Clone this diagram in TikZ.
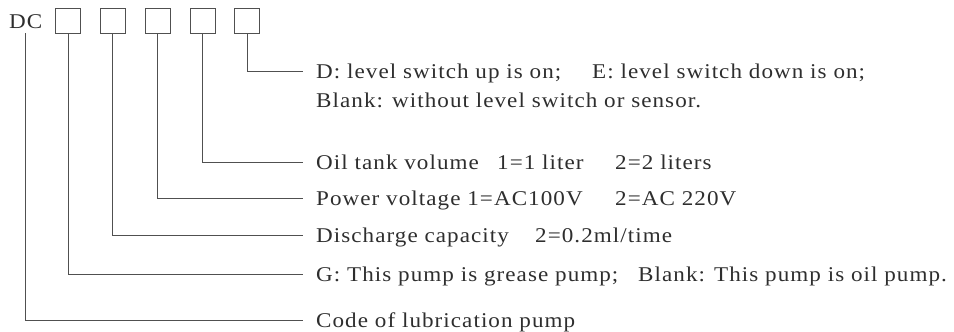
\documentclass[tikz,border=0pt]{standalone}
\usepackage{fontspec}
\setmainfont{Liberation Serif}[FakeStretch=1.1,LetterSpace=5]
\usepackage{tikz}
\usetikzlibrary{positioning}
\definecolor{inkgray}{HTML}{2E2E2E}
\definecolor{linegray}{HTML}{505050}

\begin{document}
\begin{tikzpicture}[x=1pt, y=-1pt,
    cell/.style={draw=linegray, line width=0.8pt, minimum size=25pt, inner sep=0pt},
    txt/.style={anchor=west, inner sep=0pt, text height=14pt, text depth=0pt,
        text=inkgray, font=\fontsize{21}{25}\selectfont},
    lead/.style={draw=linegray, line width=0.8pt, shorten >=13pt}]
    \useasboundingbox (0,0) rectangle (954,332);

    % code letters
    \node[txt, anchor=base west] (dc) at (9,28) {DC};
    \node[cell] (b1) at (68,20.5) {};
    \node[cell, right=19pt of b1] (b2) {};
    \node[cell, right=19pt of b2] (b3) {};
    \node[cell, right=19pt of b3] (b4) {};
    \node[cell, right=19pt of b4] (b5) {};

    % explanations
    \node[txt] (tD) at (316,71.7) {D: level switch up is on;};
    \node[txt] (tE) at (592,71.7) {E: level switch down is on;};
    \node[txt] (tBlank) at (316,100) {Blank: without level switch or sensor.};
    \node[txt] (tOil) at (316,162) {Oil tank volume};
    \node[txt] (tOneL) at (497,162) {1=1 liter};
    \node[txt] (tTwoL) at (615,162) {2=2 liters};
    \node[txt] (tPow) at (316,198) {Power voltage 1=AC100V};
    \node[txt] (tHigh) at (615,198) {2=AC 220V};
    \node[txt] (tDis) at (316,235) {Discharge capacity};
    \node[txt] (tRate) at (535,235) {2=0.2ml/time};
    \node[txt] (tG) at (316,274) {G: This pump is grease pump;};
    \node[txt] (tOilP) at (638,274) {Blank: This pump is oil pump.};
    \node[txt] (tCode) at (316,320.5) {Code of lubrication pump};

    % leaders
    \draw[lead] (b5.south) |- (tD.west);
    \draw[lead] (b4.south) |- (tOil.west);
    \draw[lead] (b3.south) |- (tPow.west);
    \draw[lead] (b2.south) |- (tDis.west);
    \draw[lead] (b1.south) |- (tG.west);
    \draw[lead, shorten <=5pt] (dc.south) |- (tCode.west);
\end{tikzpicture}
\end{document}
